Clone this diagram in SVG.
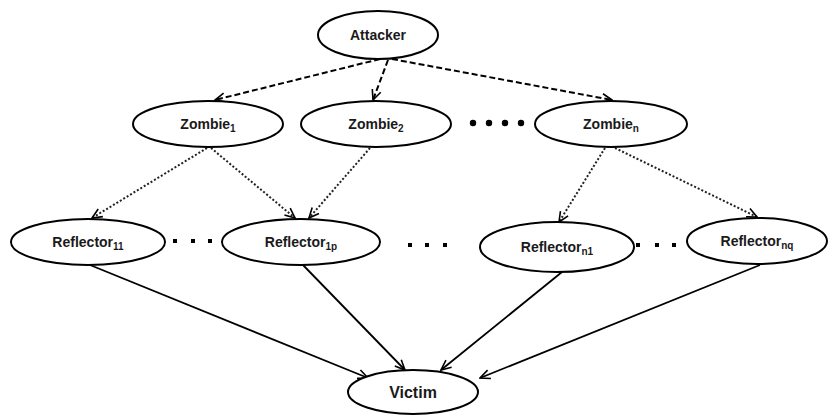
<svg xmlns="http://www.w3.org/2000/svg" width="828" height="417" viewBox="0 0 828 417">
<style>
.n{fill:#fff;stroke:#000;stroke-width:2}
.t{font-family:"Liberation Sans",Arial,sans-serif;font-weight:bold;font-size:14px;fill:#1a1a1a;text-anchor:middle}
.s{font-size:10px}
.dash{fill:none;stroke:#000;stroke-width:2;stroke-dasharray:6,3}
.dot{fill:none;stroke:#222;stroke-width:2;stroke-dasharray:2,2}
.sol{fill:none;stroke:#000;stroke-width:1.8}
</style>
<defs>
<marker id="a" viewBox="0 0 12 12" refX="11" refY="6" markerWidth="12" markerHeight="12" markerUnits="userSpaceOnUse" orient="auto">
<polyline points="1,1.5 11,6 1,10.5" fill="none" stroke="#000" stroke-width="1.6"/>
</marker>
</defs>
<g id="connectors">
<line class="dash" x1="380" y1="59" x2="215" y2="100" marker-end="url(#a)"/>
<line class="dash" x1="388" y1="60" x2="373" y2="100" marker-end="url(#a)"/>
<line class="dash" x1="392" y1="59" x2="612" y2="100" marker-end="url(#a)"/>
<line class="dot" x1="207" y1="148" x2="92" y2="218" marker-end="url(#a)"/>
<line class="dot" x1="211" y1="148" x2="295" y2="218" marker-end="url(#a)"/>
<line class="dot" x1="370" y1="148" x2="309" y2="218" marker-end="url(#a)"/>
<line class="dot" x1="605" y1="148" x2="559" y2="222" marker-end="url(#a)"/>
<line class="dot" x1="615" y1="148" x2="757" y2="217" marker-end="url(#a)"/>
<line class="sol" x1="90" y1="265" x2="368" y2="378" marker-end="url(#a)"/>
<line class="sol" x1="303" y1="265" x2="405" y2="370" marker-end="url(#a)"/>
<line class="sol" x1="562" y1="272" x2="441" y2="370" marker-end="url(#a)"/>
<line class="sol" x1="760" y1="265" x2="480" y2="378" marker-end="url(#a)"/>
</g>
<g id="attacker"><ellipse class="n" cx="378" cy="35" rx="60" ry="24"/><text class="t" x="378" y="40">Attacker</text></g>
<g id="zombie1"><ellipse class="n" cx="208" cy="124" rx="75" ry="23"/><text class="t" x="208" y="129">Zombie<tspan class="s" dy="3">1</tspan></text></g>
<g id="zombie2"><ellipse class="n" cx="376" cy="124" rx="75" ry="23"/><text class="t" x="376" y="129">Zombie<tspan class="s" dy="3">2</tspan></text></g>
<g id="zombien"><ellipse class="n" cx="611" cy="124" rx="76" ry="23"/><text class="t" x="611" y="129">Zombie<tspan class="s" dy="3">n</tspan></text></g>
<g id="dots1" fill="#000"><circle cx="473" cy="123" r="3.2"/><circle cx="489" cy="123" r="3.2"/><circle cx="505" cy="123" r="3.2"/><circle cx="521" cy="123" r="3.2"/></g>
<g id="reflector11"><ellipse class="n" cx="88" cy="242" rx="77" ry="23"/><text class="t" x="88" y="247">Reflector<tspan class="s" dy="3">11</tspan></text></g>
<g id="reflector1p"><ellipse class="n" cx="301" cy="242" rx="79" ry="23"/><text class="t" x="301" y="247">Reflector<tspan class="s" dy="3">1p</tspan></text></g>
<g id="reflectorn1"><ellipse class="n" cx="557" cy="247" rx="77" ry="25"/><text class="t" x="557" y="252">Reflector<tspan class="s" dy="3">n1</tspan></text></g>
<g id="reflectornq"><ellipse class="n" cx="757" cy="241" rx="70" ry="23"/><text class="t" x="757" y="246">Reflector<tspan class="s" dy="3">nq</tspan></text></g>
<g id="dots2" fill="#000"><rect x="173" y="239" width="4" height="4"/><rect x="191" y="239" width="4" height="4"/><rect x="208" y="239" width="4" height="4"/></g>
<g id="dots3" fill="#000"><rect x="408" y="243" width="4" height="4"/><rect x="425" y="243" width="4" height="4"/><rect x="443" y="243" width="4" height="4"/></g>
<g id="dots4" fill="#000"><rect x="636" y="243" width="4" height="4"/><rect x="655" y="243" width="4" height="4"/><rect x="672" y="243" width="4" height="4"/></g>
<g id="victim"><ellipse class="n" cx="413" cy="392" rx="65" ry="22"/><text class="t" x="413" y="398" style="font-size:16px">Victim</text></g>
</svg>
